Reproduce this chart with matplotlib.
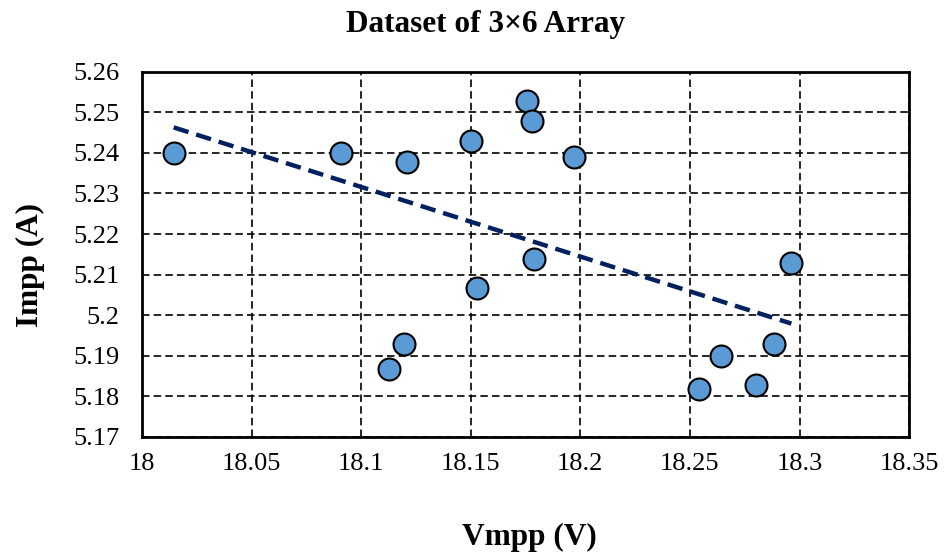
import numpy as np
import matplotlib.pyplot as plt

# Vmpp (V) / Impp (A) measured points
vmpp = [18.0145, 18.0908, 18.1208, 18.150, 18.1758, 18.1781, 18.197, 18.179,
        18.153, 18.1197, 18.1128, 18.2963, 18.2882, 18.2642, 18.2541, 18.2801]
impp = [5.2400, 5.2400, 5.2378, 5.2429, 5.2529, 5.2478, 5.2389, 5.2138,
        5.2068, 5.1928, 5.1867, 5.2128, 5.1928, 5.1898, 5.1817, 5.1828]

# linear trendline as shown on the chart (ends)
trend_v = [18.0145, 18.2963]
trend_i = [5.2463, 5.1979]

x_ticks = [18, 18.05, 18.1, 18.15, 18.2, 18.25, 18.3, 18.35]
x_labels = ["18", "18.05", "18.1", "18.15", "18.2", "18.25", "18.3", "18.35"]
y_ticks = [5.17, 5.18, 5.19, 5.2, 5.21, 5.22, 5.23, 5.24, 5.25, 5.26]
y_labels = ["5.17", "5.18", "5.19", "5.2", "5.21", "5.22", "5.23", "5.24", "5.25", "5.26"]

plt.rcParams['font.family'] = ['Liberation Serif', 'DejaVu Serif']

fig = plt.figure(figsize=(9.46, 5.57), dpi=100)
ax = fig.add_axes([0.150, 0.216, 0.811, 0.655])

ax.grid(True, color='black', linestyle=(0, (4.5, 2.5)), linewidth=1.2, zorder=0)
ax.set_axisbelow(True)

ax.plot(trend_v, trend_i, color='#002060', linewidth=3.2,
        linestyle=(0, (3.5, 1.8)), zorder=2)

ax.scatter(vmpp, impp, s=250, color='#5B9BD5', edgecolor='black',
           linewidth=1.5, zorder=3)

ax.set_xlim(18, 18.35)
ax.set_ylim(5.17, 5.26)
ax.set_xticks(x_ticks)
ax.set_xticklabels(x_labels)
ax.set_yticks(y_ticks)
ax.set_yticklabels(y_labels)
ax.tick_params(length=0, labelsize=19)
ax.tick_params(axis='x', pad=12)
ax.tick_params(axis='y', pad=16)
for s in ax.spines.values():
    s.set_linewidth(2)
    s.set_color('black')

fig.text(0.5137, 0.956, "Dataset of 3×6 Array", fontsize=22.5,
         fontweight='bold', ha='center', va='center')
ax.set_xlabel("Vmpp (V)", fontsize=22.5, fontweight='bold')
ax.xaxis.set_label_coords(0.505, -0.275)
ax.xaxis.label.set_va('center')
ax.set_ylabel("Impp (A)", fontsize=22.5, fontweight='bold')
ax.yaxis.set_label_coords(-0.145, 0.47)
ax.yaxis.label.set_va('center')

fig.savefig("out.png", dpi=100)
